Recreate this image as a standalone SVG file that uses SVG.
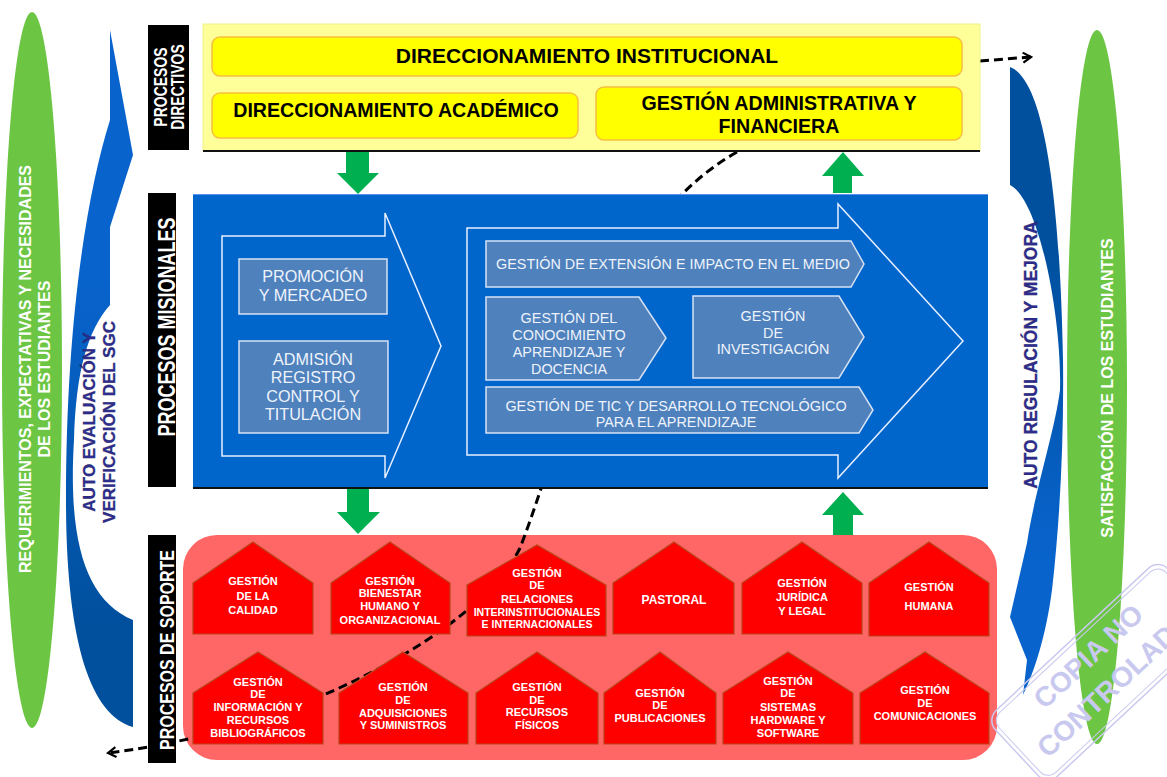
<svg xmlns="http://www.w3.org/2000/svg" width="1167" height="777" viewBox="0 0 1167 777">
<style>
text{font-family:"Liberation Sans",Arial,sans-serif;}
.yl{fill:#ffff00;stroke:#f5c040;stroke-width:1.5;}
.yt{font-size:19.6px;font-weight:bold;fill:#000;text-anchor:middle;}
.bx{fill:#4f81bd;stroke:#d6e2f3;stroke-width:1.5;}
.bt{font-size:14.4px;fill:#eef3fb;text-anchor:middle;}
.bl{font-size:16.2px;fill:#eef3fb;text-anchor:middle;}
.ol{fill:none;stroke:#e8f0ff;stroke-width:1.5;}
.hs{fill:#ff0000;stroke:#b8451a;stroke-width:1.2;}
.ht{font-size:11px;font-weight:bold;fill:#fff;text-anchor:middle;}
.lbl{fill:#000;}
.lt{font-weight:bold;fill:#fff;text-anchor:middle;}
.ga{fill:#00b050;}
.gt{font-size:16px;font-weight:bold;fill:#fff;text-anchor:middle;}
.at{font-size:17px;font-weight:bold;fill:#2e2d8f;text-anchor:middle;stroke:#1a1a50;stroke-width:0.3;}
.wm{font-size:28px;font-weight:bold;fill:#c9c9ef;text-anchor:middle;}
.dash{fill:none;stroke:#000;stroke-width:3;stroke-dasharray:9,5;}
</style>
<defs>
<linearGradient id="gl" gradientUnits="userSpaceOnUse" x1="0" y1="280" x2="0" y2="620">
<stop offset="0" stop-color="#0863cc"/><stop offset="1" stop-color="#00509e"/>
</linearGradient>
<linearGradient id="gr" gradientUnits="userSpaceOnUse" x1="0" y1="250" x2="0" y2="560">
<stop offset="0" stop-color="#00509e"/><stop offset="1" stop-color="#0863cc"/>
</linearGradient>
<marker id="ah" viewBox="0 0 12 12" refX="10" refY="6" markerWidth="4" markerHeight="4" orient="auto" markerUnits="strokeWidth">
<path d="M2,1 L10,6 L2,11" fill="none" stroke="#000" stroke-width="2.2"/>
</marker>
</defs>

<!-- side ellipses -->
<g id="req">
<ellipse cx="32" cy="370" rx="30" ry="358" fill="#6cc644"/>
<g transform="translate(31,369) rotate(-90)"><text class="gt" x="0" y="0">REQUERIMIENTOS, EXPECTATIVAS Y NECESIDADES</text><text class="gt" x="0" y="19">DE LOS ESTUDIANTES</text></g>
</g>
<g id="sat">
<ellipse cx="1097" cy="387" rx="30" ry="357" fill="#6cc644"/>
<text class="gt" transform="translate(1113,388) rotate(-90)">SATISFACCIÓN DE LOS ESTUDIANTES</text>
</g>

<!-- curved arrows -->
<g id="autoeval">
<path d="M110,30 L133,155 L110,227 L110,305 C88,330 76,370 74,440 C68,540 85,600 133,620 L133,727 C90,715 66,640 66,500 C66,330 85,200 110,120 Z" fill="url(#gl)"/>
<g transform="translate(95,422) rotate(-90)"><text class="at" x="0" y="0">AUTO EVALUACIÓN Y</text><text class="at" x="0" y="20">VERIFICACIÓN DEL SGC</text></g>
</g>
<g id="autoreg">
<path d="M1010,67 C1045,80 1060,200 1063,360 C1064,440 1060,520 1052,590 C1046,635 1035,670 1023,695 L1027,660 L1010,617 L1027,543 C1035,490 1055,430 1060,390 C1062,320 1040,200 1010,185 Z" fill="url(#gr)"/>
<text class="at" transform="translate(1037,355) rotate(-90)" style="font-size:17.5px">AUTO REGULACIÓN Y MEJORA</text>
</g>

<!-- red support box -->
<rect id="soporte-bg" x="183" y="535" width="814" height="225" rx="34" fill="#ff6666"/>

<!-- connectors -->
<g id="connectors">
<path class="dash" d="M737,152 C600,230 570,420 520,548 C480,630 300,730 108,753" marker-end="url(#ah)"/>
<path class="dash" d="M980,61 L1031,57" marker-end="url(#ah)"/>
<path class="ga" d="M346,151 H369 V173 H379 L358,194 L337,173 H346 Z"/>
<path class="ga" d="M833,193 V176 H822 L843,152 L864,176 H852 V193 Z"/>
<path class="ga" d="M347,489 H369 V512 H380 L358,534 L337,512 H347 Z"/>
<path class="ga" d="M833,535 V515 H822 L843,492 L864,515 H853 V535 Z"/>
</g>

<!-- directive processes -->
<g id="directivos">
<rect x="203" y="24" width="777" height="127" fill="#ffff99" stroke="#f2f28a" stroke-width="1"/>
<line x1="203" y1="151" x2="980" y2="151" stroke="#111" stroke-width="2"/>
</g>
<g id="dir-inst">
<rect class="yl" x="212" y="37" width="750" height="39" rx="8"/>
<text class="yt" x="587" y="63" style="font-size:21px">DIRECCIONAMIENTO INSTITUCIONAL</text>
</g>
<g id="dir-acad">
<rect class="yl" x="212" y="93" width="366" height="45" rx="8"/>
<text class="yt" x="396" y="117">DIRECCIONAMIENTO ACADÉMICO</text>
</g>
<g id="gest-adm">
<rect class="yl" x="596" y="87" width="366" height="53" rx="8"/>
<text class="yt" x="779" y="110">GESTIÓN ADMINISTRATIVA Y</text>
<text class="yt" x="779" y="133">FINANCIERA</text>
</g>

<!-- missional processes -->
<g id="misionales">
<rect x="193" y="194" width="795" height="294" fill="#0066cc"/>
<line x1="193" y1="194.5" x2="988" y2="194.5" stroke="#5b8ff0" stroke-width="1"/>
<line x1="193" y1="488" x2="988" y2="488" stroke="#111" stroke-width="2"/>
<path class="ol" d="M222,236 H385 V213 L441,346 L385,478 V456 H222 Z"/>
<path class="ol" d="M467,228 H838 V204 L963,341 L838,478 V455 H467 Z"/>
</g>
<g id="promocion">
<rect class="bx" x="239" y="259" width="148" height="55"/>
<text class="bl" x="313" y="282">PROMOCIÓN</text>
<text class="bl" x="313" y="301">Y MERCADEO</text>
</g>
<g id="admision">
<rect class="bx" x="239" y="341" width="149" height="92"/>
<text class="bl" x="313" y="365">ADMISIÓN</text>
<text class="bl" x="313" y="383">REGISTRO</text>
<text class="bl" x="313" y="402">CONTROL Y</text>
<text class="bl" x="313" y="420">TITULACIÓN</text>
</g>
<g id="extension">
<path class="bx" d="M486,241 H851 L864,264 L851,287 H486 Z"/>
<text class="bt" x="673" y="269">GESTIÓN DE EXTENSIÓN E IMPACTO EN EL MEDIO</text>
</g>
<g id="conocimiento">
<path class="bx" d="M486,297 H639 L666,338 L639,380 H486 Z"/>
<text class="bt" x="569" y="323">GESTIÓN DEL</text>
<text class="bt" x="569" y="340">CONOCIMIENTO</text>
<text class="bt" x="569" y="357">APRENDIZAJE Y</text>
<text class="bt" x="569" y="374">DOCENCIA</text>
</g>
<g id="investigacion">
<path class="bx" d="M693,296 H839 L864,337 L839,378 H693 Z"/>
<text class="bt" x="773" y="321">GESTIÓN</text>
<text class="bt" x="773" y="338">DE</text>
<text class="bt" x="773" y="354">INVESTIGACIÓN</text>
</g>
<g id="tic">
<path class="bx" d="M486,387 H859 L873,410 L859,433 H486 Z"/>
<text class="bt" x="676" y="411">GESTIÓN DE TIC Y DESARROLLO TECNOLÓGICO</text>
<text class="bt" x="676" y="427">PARA EL APRENDIZAJE</text>
</g>

<!-- support processes -->
<g id="calidad"><path class="hs" d="M193,583 L253,542 L313,583 V634 H193 Z"/>
<text class="ht" x="253" y="585">GESTIÓN</text><text class="ht" x="253" y="600">DE LA</text><text class="ht" x="253" y="614">CALIDAD</text></g>
<g id="bienestar"><path class="hs" d="M331,583 L390,542 L450,583 V634 H331 Z"/>
<text class="ht" x="390" y="585">GESTIÓN</text><text class="ht" x="390" y="597">BIENESTAR</text><text class="ht" x="390" y="610">HUMANO Y</text><text class="ht" x="390" y="624">ORGANIZACIONAL</text></g>
<g id="relaciones"><path class="hs" d="M467,585 L537,545 L606,585 V636 H467 Z"/>
<text class="ht" x="537" y="577">GESTIÓN</text><text class="ht" x="537" y="589">DE</text><text class="ht" x="537" y="603">RELACIONES</text><text class="ht" x="537" y="616" style="font-size:10.5px">INTERINSTITUCIONALES</text><text class="ht" x="537" y="628" style="font-size:10.5px">E INTERNACIONALES</text></g>
<g id="pastoral"><path class="hs" d="M613,583 L674,542 L734,583 V634 H613 Z"/>
<text class="ht" x="674" y="604" style="font-size:12px">PASTORAL</text></g>
<g id="juridica"><path class="hs" d="M742,583 L802,542 L862,583 V634 H742 Z"/>
<text class="ht" x="802" y="587">GESTIÓN</text><text class="ht" x="802" y="601">JURÍDICA</text><text class="ht" x="802" y="615">Y LEGAL</text></g>
<g id="humana"><path class="hs" d="M869,583 L929,542 L989,583 V636 H869 Z"/>
<text class="ht" x="929" y="591">GESTIÓN</text><text class="ht" x="929" y="610">HUMANA</text></g>

<g id="informacion"><path class="hs" d="M193,693 L258,652 L323,693 V744 H193 Z"/>
<text class="ht" x="258" y="686">GESTIÓN</text><text class="ht" x="258" y="698">DE</text><text class="ht" x="258" y="711">INFORMACIÓN Y</text><text class="ht" x="258" y="724">RECURSOS</text><text class="ht" x="258" y="737">BIBLIOGRÁFICOS</text></g>
<g id="adquisiciones"><path class="hs" d="M339,693 L403,652 L468,693 V744 H339 Z"/>
<text class="ht" x="403" y="691">GESTIÓN</text><text class="ht" x="403" y="704">DE</text><text class="ht" x="403" y="717">ADQUISICIONES</text><text class="ht" x="403" y="729">Y SUMINISTROS</text></g>
<g id="fisicos"><path class="hs" d="M476,693 L537,652 L598,693 V744 H476 Z"/>
<text class="ht" x="537" y="691">GESTIÓN</text><text class="ht" x="537" y="704">DE</text><text class="ht" x="537" y="716">RECURSOS</text><text class="ht" x="537" y="729">FÍSICOS</text></g>
<g id="publicaciones"><path class="hs" d="M604,693 L660,652 L716,693 V744 H604 Z"/>
<text class="ht" x="660" y="697">GESTIÓN</text><text class="ht" x="660" y="709">DE</text><text class="ht" x="660" y="722">PUBLICACIONES</text></g>
<g id="sistemas"><path class="hs" d="M723,693 L788,652 L853,693 V744 H723 Z"/>
<text class="ht" x="788" y="685">GESTIÓN</text><text class="ht" x="788" y="697">DE</text><text class="ht" x="788" y="711">SISTEMAS</text><text class="ht" x="788" y="724">HARDWARE Y</text><text class="ht" x="788" y="737">SOFTWARE</text></g>
<g id="comunicaciones"><path class="hs" d="M860,693 L925,652 L989,693 V744 H860 Z"/>
<text class="ht" x="925" y="694">GESTIÓN</text><text class="ht" x="925" y="707">DE</text><text class="ht" x="925" y="720">COMUNICACIONES</text></g>

<!-- black labels -->
<g id="lbl-directivos">
<rect class="lbl" x="148" y="25" width="41" height="125"/>
<g transform="translate(167,87) rotate(-90) scale(1,1.3)"><text class="lt" style="font-size:14px">PROCESOS</text><text class="lt" y="13" style="font-size:14px">DIRECTIVOS</text></g>
</g>
<g id="lbl-misionales">
<rect class="lbl" x="148" y="193" width="28" height="294"/>
<text class="lt" transform="translate(175,327) rotate(-90) scale(1,1.3)" style="font-size:18px">PROCESOS MISIONALES</text>
</g>
<g id="lbl-soporte">
<rect class="lbl" x="148" y="535" width="28" height="228"/>
<text class="lt" transform="translate(174,650) rotate(-90) scale(1,1.3)" style="font-size:16px">PROCESOS DE SOPORTE</text>
</g>

<!-- watermark -->
<g id="watermark" transform="translate(1101,670) rotate(-43)">
<rect x="-118" y="-42" width="236" height="90" rx="14" fill="none" stroke="#c9c9ef" stroke-width="1.5"/>
<rect x="-114" y="-38" width="228" height="82" rx="11" fill="none" stroke="#c9c9ef" stroke-width="1"/>
<text class="wm" x="0" y="-9">COPIA NO</text>
<text class="wm" x="0" y="29">CONTROLADA</text>
</g>
</svg>
